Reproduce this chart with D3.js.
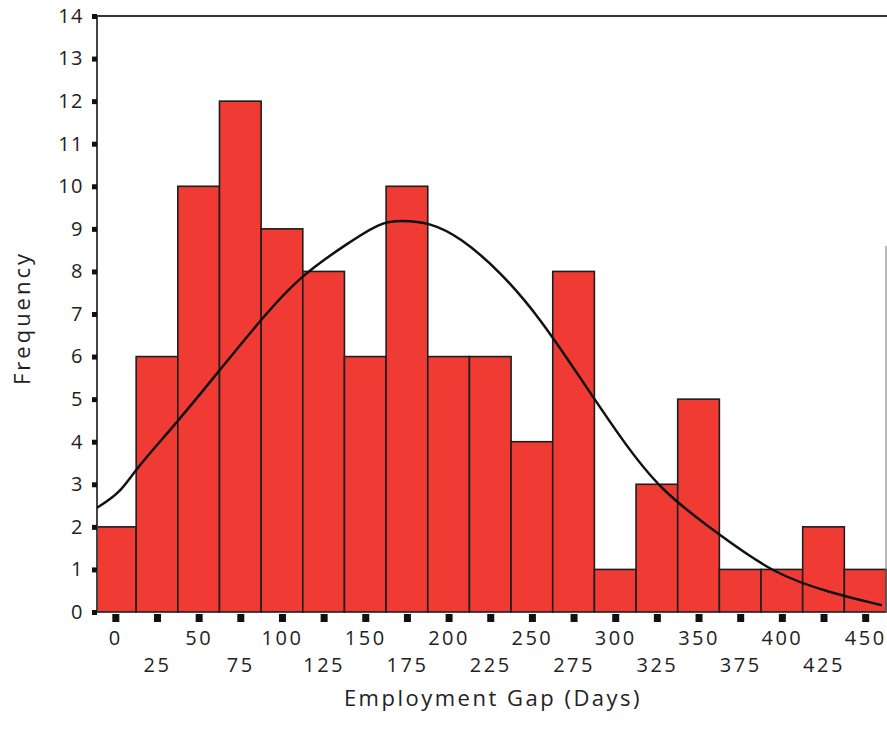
<!DOCTYPE html>
<html>
<head>
<meta charset="utf-8">
<script src="https://cdn.jsdelivr.net/npm/d3@7"></script>
<style>
  body { margin: 0; background: #fff; }
  text { font-family: "Open Sans", "DejaVu Sans", sans-serif; fill: #222; }
</style>
</head>
<body>
<div id="chart"></div>
<script>
// bin centres (days) and counts
const binCenters = [0, 25, 50, 75, 100, 125, 150, 175, 200, 225, 250, 275, 300, 325, 350, 375, 400, 425, 450];
const counts     = [2, 6, 10, 12, 9, 8, 6, 10, 6, 6, 4, 8, 1, 3, 5, 1, 1, 2, 1];
const binWidth = 25;

// fitted curve, points
const curveX = [-11, 3, 12, 37, 62, 88, 111, 141, 159, 171, 189, 207, 231, 255, 279, 303, 327, 363, 395, 429, 460];
const curveY = [2.45, 2.8, 3.35, 4.45, 5.65, 6.9, 7.9, 8.7, 9.15, 9.2, 9.15, 8.8, 8.0, 6.9, 5.5, 4.1, 2.85, 1.8, 0.9, 0.45, 0.16];

const yTicks = d3.range(0, 15);
const xTicks = binCenters;

const w = 887, h = 742;
const mLeft = 97, mRight = 886, mTop = 16, mBottom = 612;

const svg = d3.select("#chart").append("svg")
  .attr("width", w).attr("height", h);

const x = d3.scaleLinear().domain([-11, 462.5]).range([mLeft, mRight]);
const y = d3.scaleLinear().domain([0, 14]).range([mBottom, mTop]);

// bars
svg.append("g").selectAll("rect")
  .data(binCenters)
  .enter().append("rect")
  .attr("x", d => Math.max(mLeft, x(d - binWidth / 2)))
  .attr("width", d => x(d + binWidth / 2) - Math.max(mLeft, x(d - binWidth / 2)))
  .attr("y", (d, i) => y(counts[i]))
  .attr("height", (d, i) => mBottom - y(counts[i]))
  .attr("fill", "#ef3b33")
  .attr("stroke", "#1e1e1e")
  .attr("stroke-width", 1.6);

// frame lines
svg.append("line")
  .attr("x1", mLeft).attr("x2", w).attr("y1", mTop).attr("y2", mTop)
  .attr("stroke", "#333").attr("stroke-width", 2);
svg.append("line")
  .attr("x1", mLeft).attr("x2", mLeft).attr("y1", mTop).attr("y2", mBottom)
  .attr("stroke", "#444").attr("stroke-width", 2);
svg.append("line")
  .attr("x1", mRight).attr("x2", mRight).attr("y1", y(8.6)).attr("y2", mBottom)
  .attr("stroke", "#777").attr("stroke-width", 1);

// y axis
const yAxis = d3.axisLeft(y).tickValues(yTicks).tickSize(0).tickPadding(13);
const gy = svg.append("g").attr("transform", `translate(${mLeft},0)`).call(yAxis);
gy.select(".domain").remove();
gy.selectAll(".tick text")
  .style("font-size", "20px").style("letter-spacing", "1.5px")
  .attr("fill", "#222");
gy.selectAll(".tick").append("rect")
  .attr("x", -5).attr("y", -2.5).attr("width", 5).attr("height", 5)
  .attr("fill", "#111");

// x axis
const xAxis = d3.axisBottom(x).tickValues(xTicks).tickSize(0).tickPadding(0);
const gx = svg.append("g").attr("transform", `translate(0,${mBottom})`).call(xAxis);
gx.select(".domain").remove();
gx.selectAll(".tick text")
  .attr("y", (d, i) => i % 2 === 0 ? 33 : 60)
  .attr("dy", 0)
  .style("font-size", "20px").style("letter-spacing", "2.5px")
  .attr("fill", "#222");
gx.selectAll(".tick").append("rect")
  .attr("x", -3.5).attr("y", 2).attr("width", 7).attr("height", 8)
  .attr("fill", "#111");

// curve
const line = d3.line()
  .x(d => x(d[0])).y(d => y(d[1]))
  .curve(d3.curveBasis);
svg.append("path")
  .datum(curveX.map((v, i) => [v, curveY[i]]))
  .attr("d", line)
  .attr("fill", "none")
  .attr("stroke", "#111")
  .attr("stroke-width", 2.5);

// axis titles
svg.append("text")
  .attr("x", 493).attr("y", 706)
  .attr("text-anchor", "middle")
  .style("font-size", "22px").style("letter-spacing", "2.5px")
  .text("Employment Gap (Days)");

svg.append("text")
  .attr("transform", "translate(30,318) rotate(-90)")
  .attr("text-anchor", "middle")
  .style("font-size", "22px").style("letter-spacing", "3px")
  .text("Frequency");
</script>
</body>
</html>
